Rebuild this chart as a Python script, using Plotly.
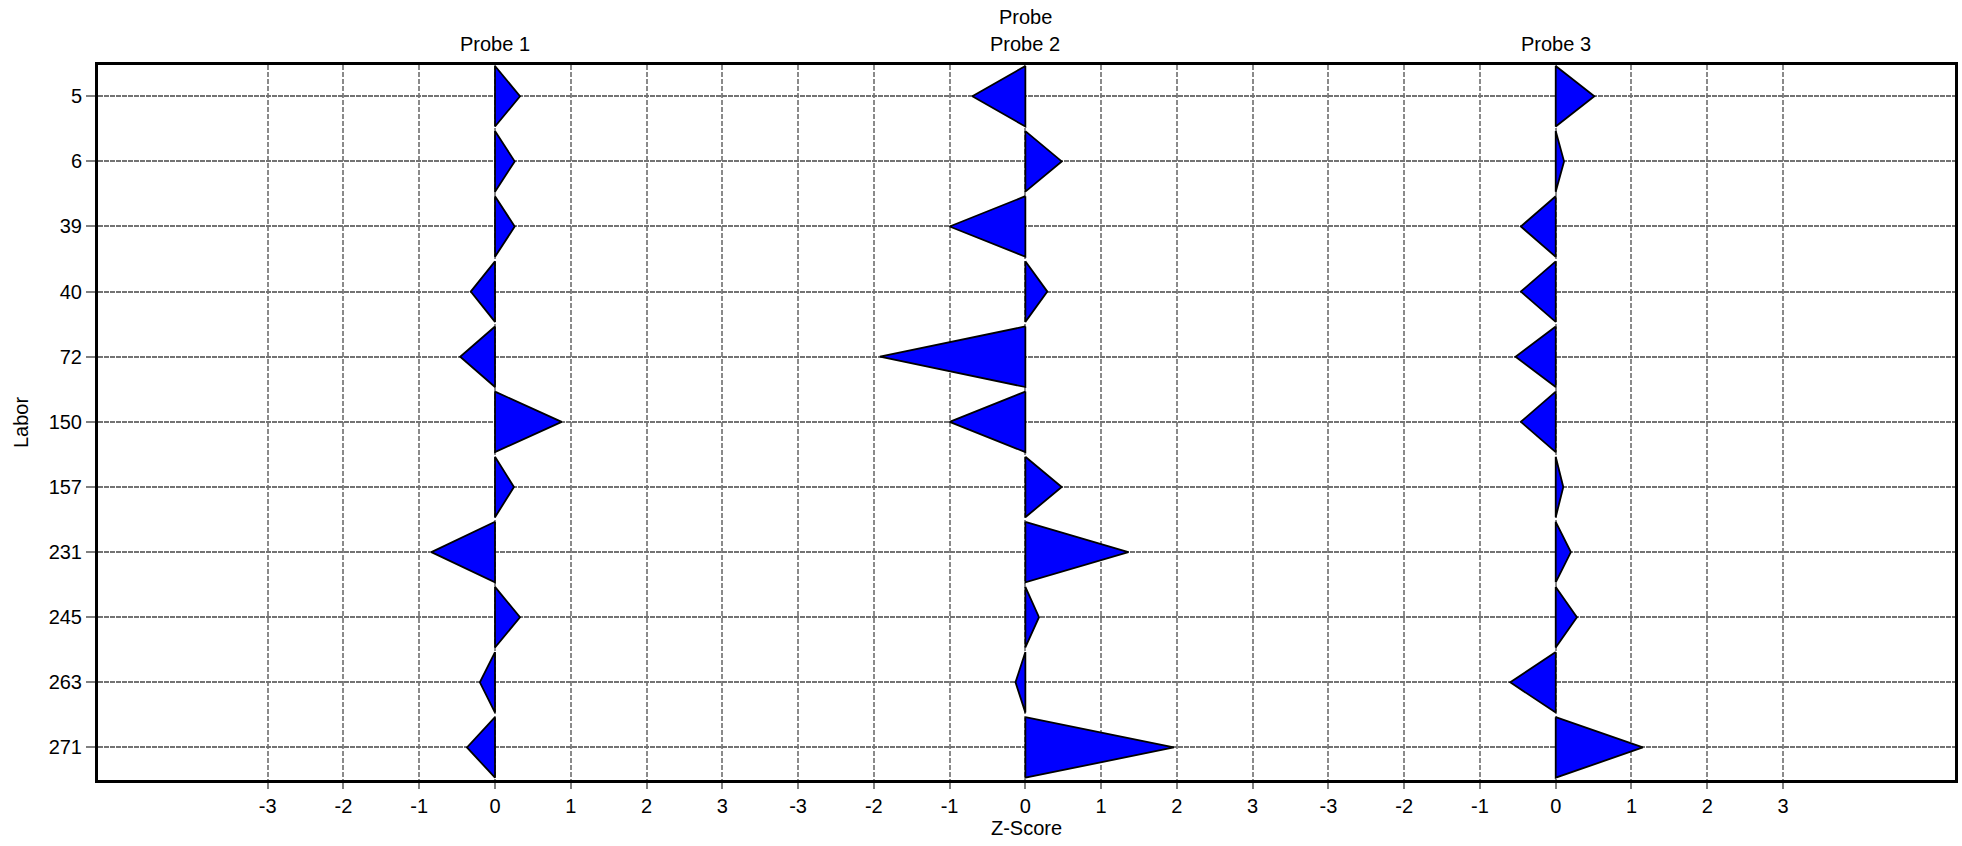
import plotly.graph_objects as go

# Laboratories (rows, top to bottom) and their z-scores per sample
labs = ["5", "6", "39", "40", "72", "150", "157", "231", "245", "263", "271"]
probes = ["Probe 1", "Probe 2", "Probe 3"]
z_probe1 = [0.33, 0.26, 0.26, -0.32, -0.46, 0.88, 0.25, -0.84, 0.33, -0.2, -0.37]
z_probe2 = [-0.70, 0.48, -1.00, 0.29, -1.92, -1.00, 0.48, 1.36, 0.18, -0.13, 1.96]
z_probe3 = [0.51, 0.11, -0.46, -0.46, -0.53, -0.46, 0.10, 0.20, 0.28, -0.60, 1.15]
tick_values = [-3, -2, -1, 0, 1, 2, 3]

PANEL_STEP = 7      # each probe occupies 7 z-units on the shared x axis
HALF = 0.465        # half-height of a triangle base, in row units

fig = go.Figure()

for p, zs in enumerate([z_probe1, z_probe2, z_probe3]):
    off = p * PANEL_STEP
    xs, ys = [], []
    for i, z in enumerate(zs):
        xs += [off, off + z, off, off, None]
        ys += [i - HALF, i, i + HALF, i - HALF, None]
    fig.add_trace(go.Scatter(
        x=xs, y=ys, mode="lines", fill="toself",
        fillcolor="#0000ff", line=dict(color="black", width=1.8),
        name=probes[p], showlegend=False, hoverinfo="skip",
    ))

xt_vals, xt_text = [], []
for p in range(len(probes)):
    for t in tick_values:
        xt_vals.append(p * PANEL_STEP + t)
        xt_text.append(str(t))

font = dict(family="Liberation Sans, Arial, sans-serif", size=20, color="black")

fig.update_layout(
    width=1962, height=846,
    margin=dict(l=98, r=4, t=65, b=66),
    paper_bgcolor="white", plot_bgcolor="white",
    font=font,
    xaxis=dict(
        range=[-5.24, 19.27], tickmode="array",
        tickvals=xt_vals, ticktext=xt_text,
        showgrid=True, gridcolor="#8a8a8a", gridwidth=1.5, griddash="5px,2px",
        zeroline=False, showline=True, mirror=True,
        linecolor="black", linewidth=3,
        ticks="outside", ticklen=6, tickcolor="#808080", tickwidth=1.5,
        title=dict(text="Z-Score", font=font, standoff=4),
        tickfont=font,
    ),
    yaxis=dict(
        range=[10.5, -0.48], tickmode="array",
        tickvals=list(range(len(labs))), ticktext=labs,
        showgrid=True, gridcolor="#737373", gridwidth=2, griddash="5px,1px",
        zeroline=False, showline=True, mirror=True,
        linecolor="black", linewidth=3,
        ticks="outside", ticklen=9, tickcolor="#808080", tickwidth=2,
        title=dict(text="Labor", font=font, standoff=15),
        tickfont=font,
    ),
    annotations=[
        dict(text="Probe", x=PANEL_STEP, xref="x", y=1, yref="paper",
             yshift=48, showarrow=False, font=font, yanchor="middle"),
    ] + [
        dict(text=name, x=p * PANEL_STEP, xref="x", y=1, yref="paper",
             yshift=21, showarrow=False, font=font, yanchor="middle")
        for p, name in enumerate(probes)
    ],
)

fig.write_html("out.html")
